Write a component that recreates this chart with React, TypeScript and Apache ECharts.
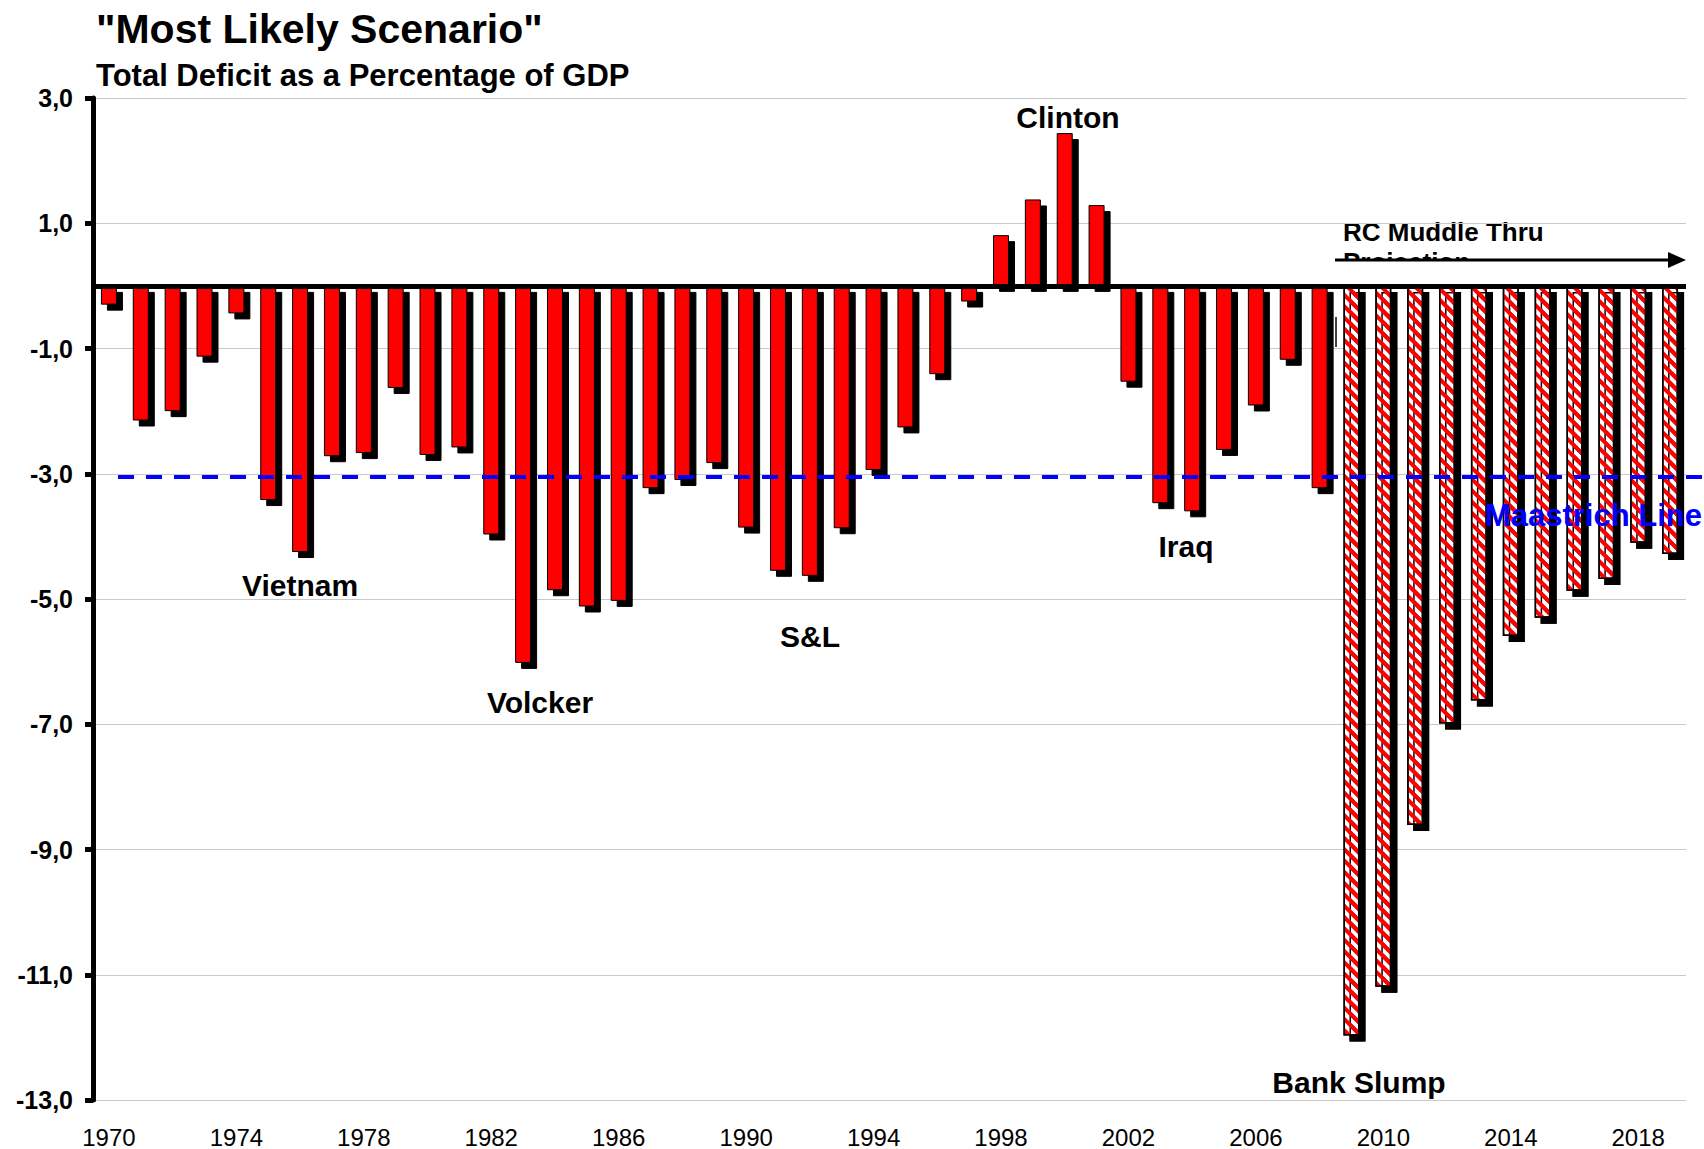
import React, { useEffect, useRef } from 'react';
import * as echarts from 'echarts';

const years = [
  '1970', '1971', '1972', '1973', '1974', '1975', '1976', '1977', '1978', '1979',
  '1980', '1981', '1982', '1983', '1984', '1985', '1986', '1987', '1988', '1989',
  '1990', '1991', '1992', '1993', '1994', '1995', '1996', '1997', '1998', '1999',
  '2000', '2001', '2002', '2003', '2004', '2005', '2006', '2007', '2008', '2009',
  '2010', '2011', '2012', '2013', '2014', '2015', '2016', '2017', '2018', '2019',
];

// 1970 - 2008 (actual)
const actualDeficit = [
  -0.3, -2.15, -2.0, -1.13, -0.44, -3.42, -4.25, -2.72, -2.67, -1.63,
  -2.7, -2.58, -3.97, -6.02, -4.86, -5.12, -5.03, -3.23, -3.1, -2.83,
  -3.86, -4.55, -4.63, -3.87, -2.94, -2.26, -1.41, -0.25, 0.81, 1.38,
  2.44, 1.29, -1.53, -3.47, -3.6, -2.62, -1.91, -1.18, -3.23,
];

// 2009 - 2019 (RC Muddle Thru projection)
const projectedDeficit = [-11.97, -11.19, -8.61, -6.99, -6.62, -5.59, -5.3, -4.87, -4.68, -4.1, -4.28];

const maastrichtLevel = -3.05;

const annotations = [
  { text: 'Vietnam', x: 300, y: 585 },
  { text: 'Volcker', x: 540, y: 702 },
  { text: 'S&L', x: 810, y: 636 },
  { text: 'Clinton', x: 1068, y: 117 },
  { text: 'Iraq', x: 1186, y: 546 },
  { text: 'Bank Slump', x: 1359, y: 1082 },
];

const FONT = '"Liberation Sans", Arial, Helvetica, sans-serif';

export default function App() {
  const ref = useRef<HTMLDivElement>(null);

  useEffect(() => {
    if (!ref.current) return;
    const chart = echarts.init(ref.current, null, { renderer: 'svg' });
    const nActual = actualDeficit.length;
    const actualData = years.map((_, i) => (i < nActual ? actualDeficit[i] : '-'));
    const projData = years.map((_, i) => (i >= nActual ? projectedDeficit[i - nActual] : '-'));
    const shadow = { shadowColor: '#000', shadowBlur: 0, shadowOffsetX: 6, shadowOffsetY: 6 };

    chart.setOption({
      animation: false,
      backgroundColor: '#ffffff',
      textStyle: { fontFamily: FONT },
      grid: { left: 93, right: 18, top: 98, bottom: 48, containLabel: false },
      xAxis: {
        type: 'category',
        data: years,
        boundaryGap: true,
        axisLine: { show: false, onZero: false },
        axisTick: { show: false },
        splitLine: { show: false },
        axisLabel: { interval: 3, fontSize: 24, color: '#000', margin: 25, fontFamily: FONT },
      },
      yAxis: {
        type: 'value',
        min: -13,
        max: 3,
        interval: 2,
        axisLine: { show: true, onZero: false, lineStyle: { color: '#000', width: 5 } },
        axisTick: { show: true, length: 8, lineStyle: { color: '#000', width: 5 } },
        axisLabel: {
          formatter: (v: number) => v.toFixed(1).replace('.', ','),
          fontSize: 25,
          fontWeight: 'bold',
          color: '#000',
          margin: 20,
          fontFamily: FONT,
        },
        splitLine: { show: true, lineStyle: { color: '#c8c8c8', width: 1 } },
      },
      series: [
        {
          name: 'Actual',
          type: 'bar',
          data: actualData,
          barWidth: 16,
          barGap: '-100%',
          itemStyle: { color: '#ff0000', borderColor: '#000', borderWidth: 1, ...shadow },
          markLine: {
            silent: true,
            symbol: ['none', 'none'],
            label: { show: false },
            lineStyle: { color: '#000', width: 5, type: 'solid' },
            data: [{ yAxis: 0 }],
          },
        },
        {
          name: 'Projection',
          type: 'bar',
          data: projData,
          barWidth: 16,
          barGap: '-100%',
          itemStyle: {
            color: '#ffffff',
            borderColor: '#000',
            borderWidth: 1.5,
            ...shadow,
            decal: {
              symbol: 'rect',
              symbolSize: 1,
              color: '#ff0000',
              dashArrayX: [1, 0],
              dashArrayY: [3.5, 3.5],
              rotation: Math.PI / 4,
            },
          },
          markLine: {
            silent: true,
            symbol: ['none', 'none'],
            label: { show: false },
            lineStyle: { color: '#0000ff', width: 4, type: [16, 12] },
            data: [[{ x: 118, yAxis: maastrichtLevel }, { x: 1704, yAxis: maastrichtLevel }]],
          },
        },
      ],
      graphic: [
        {
          type: 'text',
          x: 96,
          y: 29,
          style: { text: '"Most Likely Scenario"', fill: '#000', font: `bold 41px ${FONT}`, textAlign: 'left', textVerticalAlign: 'middle' },
        },
        {
          type: 'text',
          x: 96,
          y: 75,
          style: { text: 'Total Deficit as a Percentage of GDP', fill: '#000', font: `bold 31px ${FONT}`, textAlign: 'left', textVerticalAlign: 'middle' },
        },
        ...annotations.map((a) => ({
          type: 'text',
          x: a.x,
          y: a.y,
          style: { text: a.text, fill: '#000', font: `bold 30px ${FONT}`, textAlign: 'center', textVerticalAlign: 'middle' },
        })),
        {
          type: 'text',
          x: 1702,
          y: 515,
          z: 20,
          style: { text: 'Maastrich Line', fill: '#0000ff', font: `bold 31px ${FONT}`, textAlign: 'right', textVerticalAlign: 'middle' },
        },
        {
          type: 'text',
          x: 1343,
          y: 232,
          style: { text: 'RC Muddle Thru', fill: '#000', font: `bold 26px ${FONT}`, textAlign: 'left', textVerticalAlign: 'middle' },
        },
        {
          type: 'text',
          x: 1343,
          y: 262,
          style: { text: 'Projection', fill: '#000', font: `bold 26px ${FONT}`, textAlign: 'left', textVerticalAlign: 'middle' },
        },
        {
          type: 'rect',
          shape: { x: 1330, y: 261, width: 370, height: 20 },
          style: { fill: '#ffffff' },
        },
        {
          type: 'line',
          shape: { x1: 1335, y1: 260, x2: 1672, y2: 260 },
          style: { stroke: '#000', lineWidth: 3 },
        },
        {
          type: 'polygon',
          shape: { points: [[1686, 260], [1668, 252], [1668, 268]] },
          style: { fill: '#000' },
        },
        {
          type: 'line',
          shape: { x1: 1336, y1: 317, x2: 1336, y2: 347 },
          style: { stroke: '#000', lineWidth: 1.5 },
        },
      ],
    });

    return () => chart.dispose();
  }, []);

  return <div ref={ref} style={{ position: 'fixed', left: 0, top: 0, width: 1704, height: 1149 }} />;
}
